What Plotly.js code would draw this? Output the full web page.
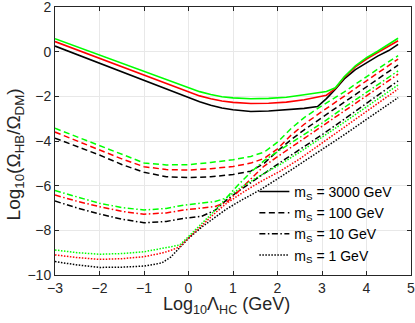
<!DOCTYPE html>
<html>
<head>
<meta charset="utf-8">
<script src="https://cdn.plot.ly/plotly-3.0.1.min.js"></script>
<style>
  html, body { margin: 0; padding: 0; background: #fff; }
  #chart { width: 415px; height: 323px; }
</style>
</head>
<body>
<div id="chart"></div>
<script>
// Text
const xTitle = 'Log<sub>10</sub>Λ<sub>HC</sub> (GeV)';
const yTitle = 'Log<sub>10</sub>(Ω<sub>HB</sub>/Ω<sub>DM</sub>)';
// Legend labels (line style encodes m_S)
const legendLabels = ['m<sub>S</sub> = 3000 GeV', 'm<sub>S</sub> = 100 GeV', 'm<sub>S</sub> = 10 GeV', 'm<sub>S</sub> = 1 GeV'];

// m_S = 3000 GeV (solid)
const xSolid = [-3, -2, -1, -0.5, 0, 0.25, 0.5, 0.75, 1, 1.4, 1.8, 2.2, 2.6, 2.9, 3.1, 3.3, 3.5, 3.75, 4, 4.25, 4.5, 4.71];
const ySolidBlack = [0.25, -0.52, -1.29, -1.67, -2.04, -2.24, -2.40, -2.52, -2.60, -2.68, -2.66, -2.61, -2.54, -2.46, -2.1, -1.68, -1.22, -0.8, -0.48, -0.2, 0.05, 0.33];
const ySolidRed   = [0.45, -0.30, -1.06, -1.43, -1.80, -1.98, -2.11, -2.21, -2.27, -2.32, -2.31, -2.26, -2.15, -2.05, -1.95, -1.65, -1.15, -0.68, -0.33, -0.04, 0.24, 0.49];
const ySolidGreen = [0.58, -0.16, -0.89, -1.26, -1.62, -1.79, -1.92, -2.02, -2.07, -2.11, -2.09, -2.04, -1.93, -1.84, -1.78, -1.62, -1.12, -0.63, -0.27, 0.02, 0.32, 0.60];

// m_S = 100 GeV (dashed)
const xDash = [-3, -2.5, -2, -1.5, -1, -0.5, 0, 0.5, 1, 1.4, 1.7, 2.0, 2.3, 2.6, 3.0, 3.5, 4.0, 4.4, 4.71];
const yDashBlack = [-3.87, -4.25, -4.63, -5.05, -5.40, -5.6, -5.64, -5.6, -5.5, -5.35, -5.0, -4.45, -3.95, -3.5, -2.95, -2.25, -1.56, -1.03, -0.60];
const yDashRed   = [-3.6, -4.0, -4.40, -4.8, -5.15, -5.28, -5.30, -5.24, -5.14, -4.99, -4.78, -4.35, -3.75, -3.25, -2.68, -2.0, -1.28, -0.75, -0.33];
const yDashGreen = [-3.43, -3.82, -4.21, -4.62, -4.98, -5.07, -5.06, -4.96, -4.84, -4.69, -4.5, -4.05, -3.45, -2.95, -2.42, -1.8, -1.1, -0.58, -0.18];

// m_S = 10 GeV (dash-dot)
const xDashDot = [-3, -2.5, -2, -1.5, -1, -0.5, -0.1, 0.3, 0.6, 0.85, 1.1, 1.4, 1.7, 2.06, 2.5, 3, 3.5, 4, 4.4, 4.71];
const yDashDotBlack = [-6.69, -7.0, -7.27, -7.5, -7.66, -7.6, -7.46, -7.37, -7.1, -6.65, -6.28, -5.86, -5.44, -4.96, -4.38, -3.72, -3.02, -2.32, -1.75, -1.31];
const yDashDotRed   = [-6.42, -6.7, -6.94, -7.15, -7.28, -7.22, -7.09, -7.0, -6.93, -6.75, -6.3, -5.7, -5.12, -4.62, -4.02, -3.35, -2.68, -1.98, -1.44, -1.01];
const yDashDotGreen = [-6.22, -6.52, -6.79, -6.98, -7.09, -7.02, -6.87, -6.78, -6.71, -6.55, -6.0, -5.4, -4.88, -4.4, -3.85, -3.2, -2.5, -1.8, -1.28, -0.86];

// m_S = 1 GeV (dotted)
const xDot = [-3, -2.5, -2, -1.5, -1, -0.6, -0.4, -0.2, 0, 0.3, 0.6, 0.85, 1.2, 1.6, 2.06, 2.5, 3, 3.5, 4, 4.4, 4.71];
const yDotBlack = [-9.40, -9.55, -9.66, -9.65, -9.60, -9.46, -9.2, -8.76, -8.36, -7.85, -7.42, -7.05, -6.64, -6.2, -5.62, -5.05, -4.4, -3.72, -3.03, -2.48, -2.06];
const yDotRed   = [-9.10, -9.22, -9.30, -9.27, -9.18, -9.02, -8.9, -8.74, -8.34, -7.76, -7.22, -6.8, -6.33, -5.84, -5.35, -4.8, -4.1, -3.4, -2.68, -2.1, -1.67];
const yDotGreen = [-8.88, -9.0, -9.07, -9.04, -8.96, -8.82, -8.74, -8.66, -8.28, -7.7, -7.1, -6.55, -6.05, -5.56, -5.05, -4.5, -3.84, -3.16, -2.47, -1.92, -1.49];

const BLACK = '#000000', RED = '#ff0000', GREEN = '#00ff00';
const DASHES = { solid: 'solid', dash: '6px,3.5px', dashdot: '6px,2.5px,1.5px,2.5px', dot: '1.5px,1.5px' };

function tr(x, y, color, style, name, showlegend) {
  return { type: 'scatter', mode: 'lines', x: x, y: y,
    line: { color: color, dash: DASHES[style], width: style === 'solid' ? 1.6 : 1.5 },
    name: name || '', showlegend: !!showlegend, hoverinfo: 'skip' };
}

const traces = [
  tr(xSolid, ySolidBlack, BLACK, 'solid', legendLabels[0], true),
  tr(xDash, yDashBlack, BLACK, 'dash', legendLabels[1], true),
  tr(xDashDot, yDashDotBlack, BLACK, 'dashdot', legendLabels[2], true),
  tr(xDot, yDotBlack, BLACK, 'dot', legendLabels[3], true),
  tr(xSolid, ySolidRed, RED, 'solid'),
  tr(xDash, yDashRed, RED, 'dash'),
  tr(xDashDot, yDashDotRed, RED, 'dashdot'),
  tr(xDot, yDotRed, RED, 'dot'),
  tr(xSolid, ySolidGreen, GREEN, 'solid'),
  tr(xDash, yDashGreen, GREEN, 'dash'),
  tr(xDashDot, yDashDotGreen, GREEN, 'dashdot'),
  tr(xDot, yDotGreen, GREEN, 'dot')
];

const FONT = 'Liberation Sans, Arial, sans-serif';
const axisCommon = {
  showline: true, linecolor: '#262626', linewidth: 1, mirror: 'ticks',
  ticks: 'inside', ticklen: 4, tickcolor: '#262626', tickwidth: 1,
  showgrid: true, gridcolor: '#e8e8e8', gridwidth: 1, zeroline: false,
  tickfont: { family: FONT, size: 14, color: '#262626' },
  ticklabeloverflow: 'allow',
  automargin: false
};

const layout = {
  width: 415, height: 323,
  margin: { l: 55, r: 4, t: 7, b: 48 },
  paper_bgcolor: '#ffffff', plot_bgcolor: '#ffffff',
  font: { family: FONT, color: '#262626' },
  xaxis: Object.assign({}, axisCommon, {
    range: [-3, 5], tickvals: [-3, -2, -1, 0, 1, 2, 3, 4, 5]
  }),
  yaxis: Object.assign({}, axisCommon, {
    range: [-10, 2], tickvals: [-10, -8, -6, -4, -2, 0, 2]
  }),
  annotations: [
    { text: xTitle, xref: 'paper', yref: 'paper', x: 0.483, y: -0.066,
      xanchor: 'center', yanchor: 'top', showarrow: false, borderpad: 0,
      font: { family: FONT, size: 18, color: '#262626' } },
    { text: yTitle, xref: 'paper', yref: 'paper', x: -0.1124, y: 0.2,
      xanchor: 'center', yanchor: 'bottom', textangle: -90, showarrow: false, borderpad: 0,
      font: { family: FONT, size: 19, color: '#262626' } }
  ],
  legend: {
    x: 0.56, y: 0.37, xanchor: 'left', yanchor: 'top',
    bgcolor: 'rgba(0,0,0,0)', borderwidth: 0,
    font: { family: FONT, size: 14, color: '#000000' },
    itemwidth: 30, tracegroupgap: 0
  }
};

Plotly.newPlot('chart', traces, layout, { staticPlot: true, displayModeBar: false });
</script>
</body>
</html>
